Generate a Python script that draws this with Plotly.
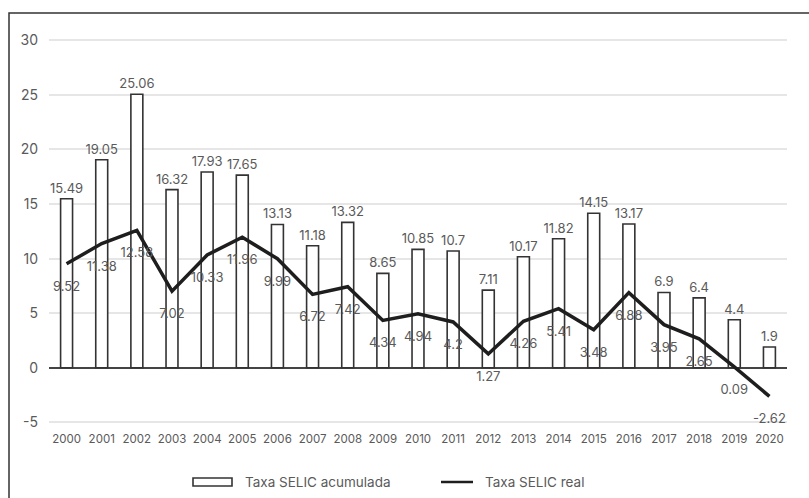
import plotly.graph_objects as go

# Taxa SELIC, 2000-2020 (% a.a.)
anos = [str(a) for a in range(2000, 2021)]
selic_acumulada = [15.49, 19.05, 25.06, 16.32, 17.93, 17.65, 13.13, 11.18, 13.32, 8.65,
                   10.85, 10.7, 7.11, 10.17, 11.82, 14.15, 13.17, 6.9, 6.4, 4.4, 1.9]
selic_real = [9.52, 11.38, 12.58, 7.02, 10.33, 11.96, 9.99, 6.72, 7.42, 4.34,
              4.94, 4.2, 1.27, 4.26, 5.41, 3.48, 6.88, 3.95, 2.65, 0.09, -2.62]
y_ticks = [-5, 0, 5, 10, 15, 20, 25, 30]

FONT = "Inter, Roboto, sans-serif"
TXT = "#5a5a5a"

fig = go.Figure()

fig.add_trace(go.Bar(
    x=anos, y=selic_acumulada, name="Taxa SELIC acumulada",
    width=0.34,
    marker=dict(color="white", line=dict(color="#333333", width=1.6)),
    text=[f"{v:g}" for v in selic_acumulada], textposition="outside",
    constraintext="none",
    textfont=dict(size=13, color=TXT, family=FONT),
    cliponaxis=False,
))

# invisible markers only serve to push the value labels below the line
fig.add_trace(go.Scatter(
    x=anos, y=selic_real, name="Taxa SELIC real",
    mode="lines+markers+text",
    line=dict(color="#1e1e1e", width=3.5),
    marker=dict(size=26, opacity=0),
    text=[f"{v:g}" for v in selic_real], textposition="bottom center",
    textfont=dict(size=13, color=TXT, family=FONT),
    cliponaxis=False,
))

W, H = 809, 498
L, R, T, B = 49, 22, 37, 68
pw, ph = W - L - R, H - T - B

def px_x(x):
    return (x - L) / pw

def px_y(y):
    return (H - B - y) / ph

shapes = [
    # outer frame (cut off at the right and bottom)
    dict(type="rect", xref="paper", yref="paper",
         x0=px_x(9), x1=px_x(830), y0=px_y(520), y1=px_y(13),
         line=dict(color="#333333", width=1.5), fillcolor="rgba(0,0,0,0)"),
    # legend keys
    dict(type="rect", xref="paper", yref="paper",
         x0=px_x(193), x1=px_x(232), y0=px_y(486), y1=px_y(478),
         line=dict(color="#333333", width=1.6), fillcolor="white"),
    dict(type="line", xref="paper", yref="paper",
         x0=px_x(441), x1=px_x(473), y0=px_y(482), y1=px_y(482),
         line=dict(color="#1e1e1e", width=2.5)),
]

annotations = [
    dict(text="Taxa SELIC acumulada", xref="paper", yref="paper",
         x=px_x(243), y=px_y(482), xanchor="left", yanchor="middle",
         showarrow=False, font=dict(size=13.5, color=TXT, family=FONT)),
    dict(text="Taxa SELIC real", xref="paper", yref="paper",
         x=px_x(483), y=px_y(482), xanchor="left", yanchor="middle",
         showarrow=False, font=dict(size=13.5, color=TXT, family=FONT)),
]

fig.update_layout(
    width=W, height=H,
    margin=dict(l=L, r=R, t=T, b=B),
    paper_bgcolor="white", plot_bgcolor="white",
    showlegend=False,
    font=dict(family=FONT, color=TXT),
    shapes=shapes, annotations=annotations,
    xaxis=dict(range=[-0.5, 20.5], showgrid=False, showline=False, ticks="",
               tickfont=dict(size=11.5, color=TXT), type="category"),
    yaxis=dict(range=[-5.7, 30.3], tickvals=y_ticks,
               ticktext=[str(v) for v in y_ticks], showgrid=True,
               gridcolor="#e6e6e6", gridwidth=2, zeroline=True,
               zerolinecolor="#444444", zerolinewidth=1.5,
               tickfont=dict(size=14, color=TXT), ticklabelstandoff=10),
)

fig.write_html("out.html")
